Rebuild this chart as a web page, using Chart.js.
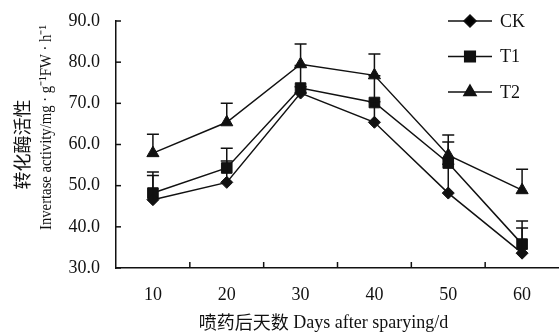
<!DOCTYPE html>
<html>
<head>
<meta charset="utf-8">
<script src="https://cdn.jsdelivr.net/npm/chart.js@4"></script>
<style>
  html, body { margin: 0; padding: 0; background: #fff; }
  #wrap { width: 559px; height: 333px; position: relative; }
</style>
</head>
<body>
<div id="wrap"><canvas id="chart"></canvas></div>
<script>
// data
const days = ['10', '20', '30', '40', '50', '60'];
const ckValues = [46.6, 50.8, 72.5, 65.4, 48.2, 33.6];
const t1Values = [48.2, 54.3, 73.7, 70.2, 55.5, 35.8];
const t2Values = [57.9, 65.4, 79.5, 76.8, 57.4, 48.9];
// upper error bars (SD)
const ckErrors = [5.9, 5.2, 1.5, 5.0, 7.0, 6.1];
const t1Errors = [5.1, 4.8, 5.5, 6.5, 5.1, 5.6];
const t2Errors = [4.6, 4.6, 4.9, 5.2, 4.9, 5.1];
const yTicks = [30, 40, 50, 60, 70, 80, 90];

const ink = '#111';
const fontFamily = '"Liberation Serif", "Noto Sans CJK SC", serif';
const cjkFamily = '"Noto Sans CJK SC", "Liberation Serif", serif';

const errors = [ckErrors, t1Errors, t2Errors];

// error bars, inward tick marks, legend and axis titles
const extras = {
  id: 'extras',
  afterDatasetsDraw(chart) {
    const ctx = chart.ctx;
    const x = chart.scales.x;
    const y = chart.scales.y;
    const area = chart.chartArea;
    ctx.save();
    ctx.strokeStyle = ink;
    ctx.lineWidth = 1.5;

    // error bars
    chart.data.datasets.forEach((ds, i) => {
      ds.data.forEach((v, j) => {
        const px = x.getPixelForValue(j);
        const top = y.getPixelForValue(v + errors[i][j]);
        const base = y.getPixelForValue(v);
        ctx.beginPath();
        ctx.moveTo(px, base);
        ctx.lineTo(px, top);
        ctx.moveTo(px - 6, top);
        ctx.lineTo(px + 6, top);
        ctx.stroke();
      });
    });

    // y ticks pointing inward
    yTicks.forEach(t => {
      const py = y.getPixelForValue(t);
      ctx.beginPath();
      ctx.moveTo(area.left, py);
      ctx.lineTo(area.left + 5, py);
      ctx.stroke();
    });
    // x ticks between categories
    for (let i = 1; i < days.length; i++) {
      const px = (x.getPixelForValue(i - 1) + x.getPixelForValue(i)) / 2;
      ctx.beginPath();
      ctx.moveTo(px, area.bottom);
      ctx.lineTo(px, area.bottom - 6);
      ctx.stroke();
    }

    // legend
    chart.data.datasets.forEach((ds, i) => {
      const ly = area.top + i * 35.5;
      const lx = area.right - 111;
      ctx.beginPath();
      ctx.moveTo(lx, ly);
      ctx.lineTo(lx + 44, ly);
      ctx.stroke();
      Chart.helpers.drawPoint(ctx, {
        pointStyle: ds.pointStyle,
        radius: ds.pointRadius,
        borderWidth: 1
      }, lx + 22, ly);
      ctx.fillStyle = ink;
      ctx.font = '18px ' + fontFamily;
      ctx.textAlign = 'left';
      ctx.textBaseline = 'middle';
      ctx.fillText(ds.label, lx + 52, ly + 1);
    });

    // x title
    ctx.fillStyle = ink;
    ctx.textBaseline = 'middle';
    ctx.textAlign = 'left';
    ctx.font = '18px ' + cjkFamily;
    const cn = '喷药后天数';
    const en = ' Days after sparying/d';
    const cnW = ctx.measureText(cn).width;
    ctx.font = '18px ' + fontFamily;
    const enW = ctx.measureText(en).width;
    const startX = (area.left + area.right) / 2 - (cnW + enW) / 2 - 14;
    ctx.font = '18px ' + cjkFamily;
    ctx.fillText(cn, startX, area.bottom + 54);
    ctx.font = '18px ' + fontFamily;
    ctx.fillText(en, startX + cnW, area.bottom + 55);

    // y titles
    ctx.save();
    ctx.translate(22, (area.top + area.bottom) / 2);
    ctx.rotate(-Math.PI / 2);
    ctx.textAlign = 'center';
    ctx.font = '18px ' + cjkFamily;
    ctx.fillText('转化酶活性', 0, 0);
    ctx.restore();
    ctx.save();
    const yTitle = 'Invertase activity/mg · g⁻¹FW · h⁻¹';
    ctx.font = '17px ' + fontFamily;
    const tw = ctx.measureText(yTitle).width;
    ctx.translate(47, area.bottom - 38);
    ctx.rotate(-Math.PI / 2);
    ctx.scale(Math.min(1, 205 / tw), 1);
    ctx.textAlign = 'left';
    ctx.fillText(yTitle, 0, 0);
    ctx.restore();

    ctx.restore();
  }
};

function series(label, values, style, radius) {
  return {
    label: label,
    data: values,
    borderColor: ink,
    backgroundColor: ink,
    borderWidth: 1.5,
    pointStyle: style,
    pointRadius: radius,
    pointBorderWidth: 1,
    pointBackgroundColor: ink,
    pointBorderColor: ink,
    tension: 0
  };
}

new Chart(document.getElementById('chart'), {
  type: 'line',
  data: {
    labels: days,
    datasets: [
      series('CK', ckValues, 'rectRot', 6),
      series('T1', t1Values, 'rect', 7.5),
      series('T2', t2Values, 'triangle', 7)
    ]
  },
  options: {
    responsive: true,
    maintainAspectRatio: false,
    animation: false,
    layout: { autoPadding: false, padding: { top: 21, right: 0, left: 0, bottom: 0 } },
    plugins: {
      legend: { display: false },
      tooltip: { enabled: false }
    },
    scales: {
      x: {
        type: 'category',
        offset: true,
        grid: { display: false },
        border: { display: true, color: ink, width: 1.5 },
        ticks: { color: ink, font: { family: fontFamily, size: 18 }, padding: 8 },
        afterFit: s => { s.height = 65; }
      },
      y: {
        min: 30,
        max: 90,
        afterBuildTicks: s => { s.ticks = yTicks.map(v => ({ value: v })); },
        grid: { display: false },
        border: { display: true, color: ink, width: 1.5 },
        ticks: {
          color: ink,
          font: { family: fontFamily, size: 18 },
          padding: 8,
          callback: v => Number(v).toFixed(1)
        },
        afterFit: s => { s.width = 116; }
      }
    }
  },
  plugins: [extras]
});
</script>
</body>
</html>
